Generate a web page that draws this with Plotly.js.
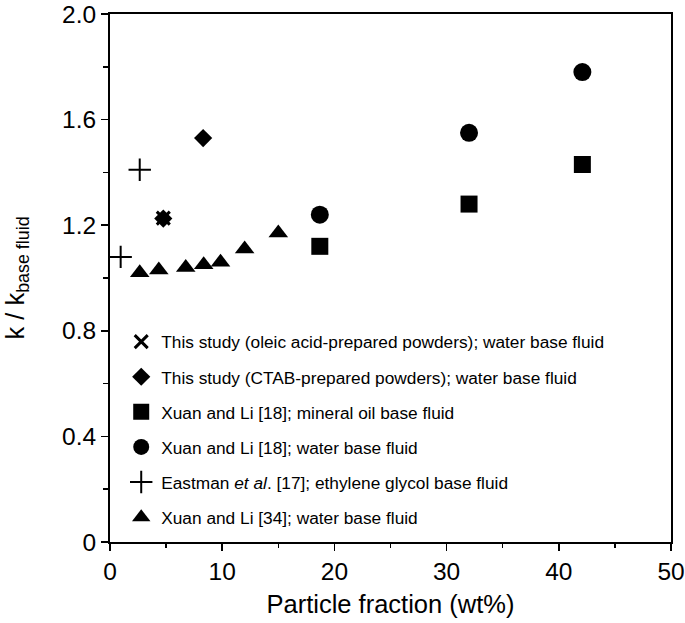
<!DOCTYPE html>
<html>
<head>
<meta charset="utf-8">
<script src="https://cdn.plot.ly/plotly-3.0.1.min.js"></script>
<style>html,body{margin:0;padding:0;background:#fff;}#chart{width:685px;height:623px;}</style>
</head>
<body>
<div id="chart"></div>
<script>
// Data
const oleicX = [4.75];
const oleicY = [1.227];
const ctabX = [4.75, 8.3];
const ctabY = [1.225, 1.53];
const xuanOilX = [18.7, 32.0, 42.1];
const xuanOilY = [1.12, 1.28, 1.43];
const xuanWaterX = [18.7, 32.0, 42.1];
const xuanWaterY = [1.24, 1.55, 1.78];
const eastmanX = [0.95, 2.65];
const eastmanY = [1.08, 1.41];
const xuan34X = [2.65, 4.35, 6.75, 8.35, 9.85, 12.0, 15.0];
const xuan34Y = [1.02, 1.03, 1.04, 1.05, 1.06, 1.11, 1.17];

const names = [
  'This study (oleic acid-prepared powders); water base fluid',
  'This study (CTAB-prepared powders); water base fluid',
  'Xuan and Li [18]; mineral oil base fluid',
  'Xuan and Li [18]; water base fluid',
  'Eastman <i>et al</i>. [17]; ethylene glycol base fluid',
  'Xuan and Li [34]; water base fluid'
];
const yTickVals = [0, 0.4, 0.8, 1.2, 1.6, 2.0];
const yTickText = ['0', '0.4', '0.8', '1.2', '1.6', '2.0'];
const xTickVals = [0, 10, 20, 30, 40, 50];

function tr(x, y, name, symbol, size, lw, group) {
  return {
    type: 'scatter', mode: 'markers', x: x, y: y, name: name,
    legendgroup: group,
    marker: {symbol: symbol, size: size, color: '#000',
             line: {color: '#000', width: lw}},
    hoverinfo: 'skip'
  };
}

const data = [
  tr(oleicX, oleicY, names[0], 'x-thin', 13, 3, 'a'),
  tr(ctabX, ctabY, names[1], 'diamond', 14, 0, 'b'),
  tr(xuanOilX, xuanOilY, names[2], 'square', 17, 0, 'c'),
  tr(xuanWaterX, xuanWaterY, names[3], 'circle', 18, 0, 'd'),
  tr(eastmanX, eastmanY, names[4], 'cross-thin', 16, 2, 'e'),
  tr(xuan34X, xuan34Y, names[5], 'triangle-up', 17, 0, 'f')
];

const font = {family: 'Liberation Sans, Arial, sans-serif', color: '#000'};

const layout = {
  width: 685, height: 623,
  margin: {l: 110, r: 14, t: 14, b: 81},
  paper_bgcolor: '#fff', plot_bgcolor: '#fff',
  font: Object.assign({size: 19}, font),
  showlegend: true,
  legend: {
    x: 0.02, y: 0.413, xanchor: 'left', yanchor: 'top',
    bgcolor: 'rgba(0,0,0,0)', borderwidth: 0,
    font: Object.assign({size: 17.3}, font),
    traceorder: 'grouped', tracegroupgap: 9.6,
    itemclick: false
  },
  xaxis: {
    range: [0, 50], tickvals: xTickVals,
    showgrid: false, zeroline: false,
    showline: true, linecolor: '#000', linewidth: 2, mirror: true,
    ticks: 'outside', ticklen: 7, tickwidth: 1.5, tickcolor: '#000',
    tickfont: Object.assign({size: 24.5}, font),
    minor: {dtick: 5, ticks: 'outside', ticklen: 4, tickwidth: 1.5, tickcolor: '#000', showgrid: false},
    title: {text: 'Particle fraction (wt%)', font: Object.assign({size: 25.5}, font), standoff: 11}
  },
  yaxis: {
    range: [0, 2.0], tickvals: yTickVals, ticktext: yTickText,
    showgrid: false, zeroline: false,
    showline: true, linecolor: '#000', linewidth: 2, mirror: true,
    ticks: 'outside', ticklen: 7, tickwidth: 1.5, tickcolor: '#000',
    tickfont: Object.assign({size: 24.5}, font),
    minor: {tickvals: [0.2, 0.6, 1.0, 1.4, 1.8], ticks: 'outside', ticklen: 5, tickwidth: 1.5, tickcolor: '#000', showgrid: false},
    title: {text: 'k / k<sub>base fluid</sub>', font: Object.assign({size: 25.5}, font), standoff: 30}
  }
};

Plotly.newPlot('chart', data, layout, {displayModeBar: false, staticPlot: true});
</script>
</body>
</html>
